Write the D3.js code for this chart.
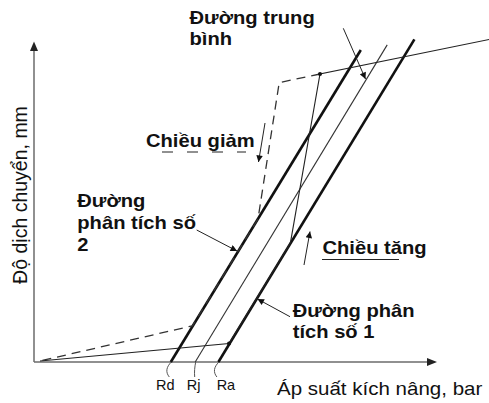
<!DOCTYPE html>
<html>
<head>
<meta charset="utf-8">
<script src="https://cdn.jsdelivr.net/npm/d3@7"></script>
<style>
  body { margin: 0; background: #fff; }
  text { font-family: "Liberation Sans", Arial, sans-serif; fill: #111; }
</style>
</head>
<body>
<svg id="chart" width="489" height="403"></svg>
<script>
// Pressures (bar) where each line meets the pressure axis
const tickNames = ["Rd", "Rj", "Ra"];
const tickValues = [34.2, 40.3, 46.1];

// Upper end of the three parallel lines (analysis 2, mean, analysis 1)
const lineTopX = [81.7, 88.3, 95.1];
const lineTopY = [97.5, 99.1, 100.8];
const lineKinds = ["thick", "thin", "thick"];

// Loading branch (pressure increasing)
const upX = [1.5, 48.75, 64.1, 71.5, 113.8];
const upY = [0.3, 5.8, 37.2, 90.0, 100.8];

// Unloading branch (pressure decreasing)
const downX = [71.5, 61.3, 56.0, 39.6, 1.5];
const downY = [90.0, 87.3, 44.7, 11.3, 0.3];

const svg = d3.select("#chart");
const x = d3.scaleLinear().domain([0, 100]).range([34, 434]);
const y = d3.scaleLinear().domain([0, 100]).range([362, 42]);

const defs = svg.append("defs");
defs.append("marker")
  .attr("id", "head")
  .attr("viewBox", "0 0 10 10")
  .attr("refX", 10).attr("refY", 5)
  .attr("markerWidth", 9).attr("markerHeight", 6.5)
  .attr("markerUnits", "userSpaceOnUse")
  .attr("orient", "auto")
  .append("path").attr("d", "M0,0 L10,5 L0,10 Z").attr("fill", "#111");

// ---- axes ----
const x0 = x(0), y0 = y(0);
svg.append("line").attr("x1", x0).attr("y1", y0).attr("x2", x0).attr("y2", 50)
  .attr("stroke", "#6b6b6b").attr("stroke-width", 1.5);
svg.append("path").attr("d", `M${x0},41.5 L${x0 - 4},51 L${x0 + 4},51 Z`).attr("fill", "#222");
svg.append("line").attr("x1", x0).attr("y1", y0).attr("x2", 428).attr("y2", y0)
  .attr("stroke", "#6b6b6b").attr("stroke-width", 1.5);
svg.append("path").attr("d", `M437,${y0} L427,${y0 - 4} L427,${y0 + 4} Z`).attr("fill", "#222");

// label offsets under each tick curve
const tickLabelShift = [-6, -2, 7];
const xAxis = d3.axisBottom(x)
  .tickValues(tickValues)
  .tickFormat((d, i) => tickNames[i])
  .tickSize(0)
  .tickPadding(18);
const gx = svg.append("g").attr("transform", `translate(0,${y0})`).call(xAxis);
gx.select(".domain").remove();
gx.selectAll(".tick text")
  .attr("font-family", "Liberation Sans, Arial, sans-serif")
  .attr("font-size", 14.5).attr("fill", "#222")
  .attr("dx", (d, i) => tickLabelShift[i]);
gx.selectAll(".tick").append("path")
  .attr("d", (d, i) => i === 1 ? "M0,0 C-1,5 -1.5,10 -1,15" : "M0,0 C-5,5 -6,10 -2,15")
  .attr("fill", "none").attr("stroke", "#555").attr("stroke-width", 1);

// ---- parallel lines ----
tickValues.forEach((r, i) => {
  svg.append("line")
    .attr("x1", x(r)).attr("y1", y(0))
    .attr("x2", x(lineTopX[i])).attr("y2", y(lineTopY[i]))
    .attr("stroke", lineKinds[i] === "thick" ? "#111" : "#333")
    .attr("stroke-width", lineKinds[i] === "thick" ? 2.6 : 1.1);
});

const line = d3.line().x(d => x(d[0])).y(d => y(d[1]));

// loading branch
svg.append("path")
  .attr("d", line(upX.map((v, i) => [v, upY[i]])))
  .attr("fill", "none").attr("stroke", "#222").attr("stroke-width", 1.1);
// unloading branch
svg.append("path")
  .attr("d", line(downX.map((v, i) => [v, downY[i]])))
  .attr("fill", "none").attr("stroke", "#333").attr("stroke-width", 1.3)
  .attr("stroke-dasharray", "9,6");

// markers on the loading branch
[[upX[1], upY[1]], [upX[3], upY[3]]].forEach(p => {
  svg.append("circle").attr("cx", x(p[0])).attr("cy", y(p[1])).attr("r", 2).attr("fill", "#111");
});

// ---- annotation arrows ----
const arrows = [
  [343.3, 28.3, 365.5, 79],
  [265, 123, 258.5, 162],
  [196.7, 230, 237, 251],
  [304, 265, 310, 231.5],
  [290, 316.7, 257.5, 299]
];
arrows.forEach(a => {
  svg.append("line")
    .attr("x1", a[0]).attr("y1", a[1]).attr("x2", a[2]).attr("y2", a[3])
    .attr("stroke", "#222").attr("stroke-width", 1)
    .attr("marker-end", "url(#head)");
});

// ---- text labels ----
function label(lines, tx, ty, lh) {
  const g = svg.append("g").attr("transform", `translate(${tx},${ty}) scale(1.12,1)`);
  lines.forEach((s, i) => {
    g.append("text").attr("x", 0).attr("y", i * lh)
      .attr("font-size", 18).attr("font-weight", "bold").text(s);
  });
}
label(["Đường trung", "bình"], 189.5, 24, 21.5);
label(["Chiều giảm"], 146, 147, 22);
label(["Đường", "phân tích số", "2"], 77.3, 206.7, 22);
label(["Chiều tăng"], 322.5, 253.5, 22);
label(["Đường phân", "tích số 1"], 292.7, 316.7, 21);

svg.append("line").attr("x1", 162).attr("y1", 152).attr("x2", 246).attr("y2", 152)
  .attr("stroke", "#222").attr("stroke-width", 1.2).attr("stroke-dasharray", "11,14");
svg.append("line").attr("x1", 322).attr("y1", 259.5).attr("x2", 399).attr("y2", 259.5)
  .attr("stroke", "#222").attr("stroke-width", 1.2);

// axis titles
svg.append("g").attr("transform", "translate(277,395) scale(1.14,1)")
  .append("text").attr("font-size", 18).attr("fill", "#222")
  .text("Áp suất kích nâng, bar");
svg.append("text")
  .attr("transform", "translate(27,195) rotate(-90)")
  .attr("text-anchor", "middle")
  .attr("font-size", 19.5).attr("fill", "#222")
  .text("Độ dịch chuyển, mm");
</script>
</body>
</html>
